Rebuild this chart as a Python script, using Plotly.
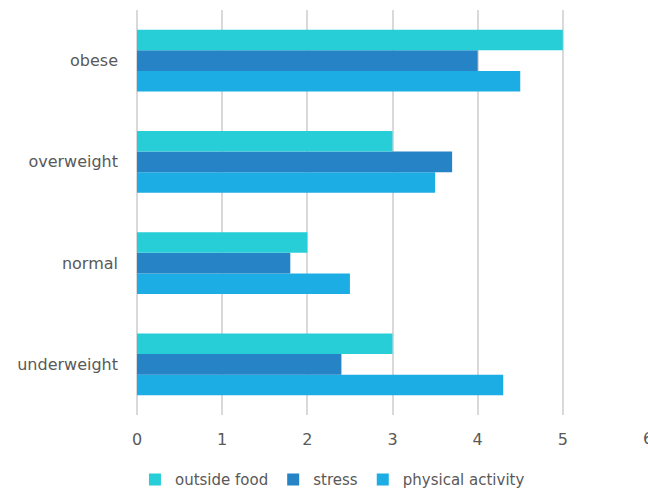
import plotly.graph_objects as go

categories = ["underweight", "normal", "overweight", "obese"]
physical_activity = [4.3, 2.5, 3.5, 4.5]
stress = [2.4, 1.8, 3.7, 4.0]
outside_food = [3.0, 2.0, 3.0, 5.0]
x_ticks = [0, 1, 2, 3, 4, 5, 6]

FONT = "DejaVu Sans"
GREY = "#595959"

fig = go.Figure()
fig.add_trace(go.Bar(y=categories, x=physical_activity, name="physical activity",
                     orientation="h", marker=dict(color="#1CADE4", line=dict(width=0))))
fig.add_trace(go.Bar(y=categories, x=stress, name="stress",
                     orientation="h", marker=dict(color="#2683C6", line=dict(width=0))))
fig.add_trace(go.Bar(y=categories, x=outside_food, name="outside food",
                     orientation="h", marker=dict(color="#27CED7", line=dict(width=0))))

fig.update_layout(
    width=648, height=493,
    margin=dict(l=137, r=0, t=10, b=78, autoexpand=False),
    paper_bgcolor="white", plot_bgcolor="white",
    barmode="group", bargap=0.39, bargroupgap=0,
    font=dict(family=FONT, size=15, color=GREY),
    xaxis=dict(range=[0, 6], tickvals=x_ticks[:-1], ticktext=[str(v) for v in x_ticks[:-1]],
               showgrid=True, gridcolor="#D9D9D9", gridwidth=1.5,
               zeroline=True, zerolinecolor="#D9D9D9", zerolinewidth=1.5,
               showline=False, ticks="", ticklabelstandoff=13,
               tickfont=dict(family=FONT, size=16, color=GREY), automargin=False),
    yaxis=dict(showgrid=False, zeroline=False, showline=False, ticks="",
               ticklabelstandoff=18,
               tickfont=dict(family=FONT, size=16, color=GREY), automargin=False),
    legend=dict(orientation="h", traceorder="reversed",
                x=-0.004, xanchor="left", y=-0.16, yanchor="middle",
                font=dict(family=FONT, size=15, color=GREY),
                itemwidth=30, bgcolor="rgba(0,0,0,0)"),
    showlegend=True,
)

# last tick label sits exactly at the right edge, as in the reference
fig.add_annotation(x=x_ticks[-1], xref="x", y=-0.057, yref="paper", yanchor="middle",
                   text=str(x_ticks[-1]), showarrow=False,
                   font=dict(family=FONT, size=16, color=GREY))

fig.write_html("out.html")
